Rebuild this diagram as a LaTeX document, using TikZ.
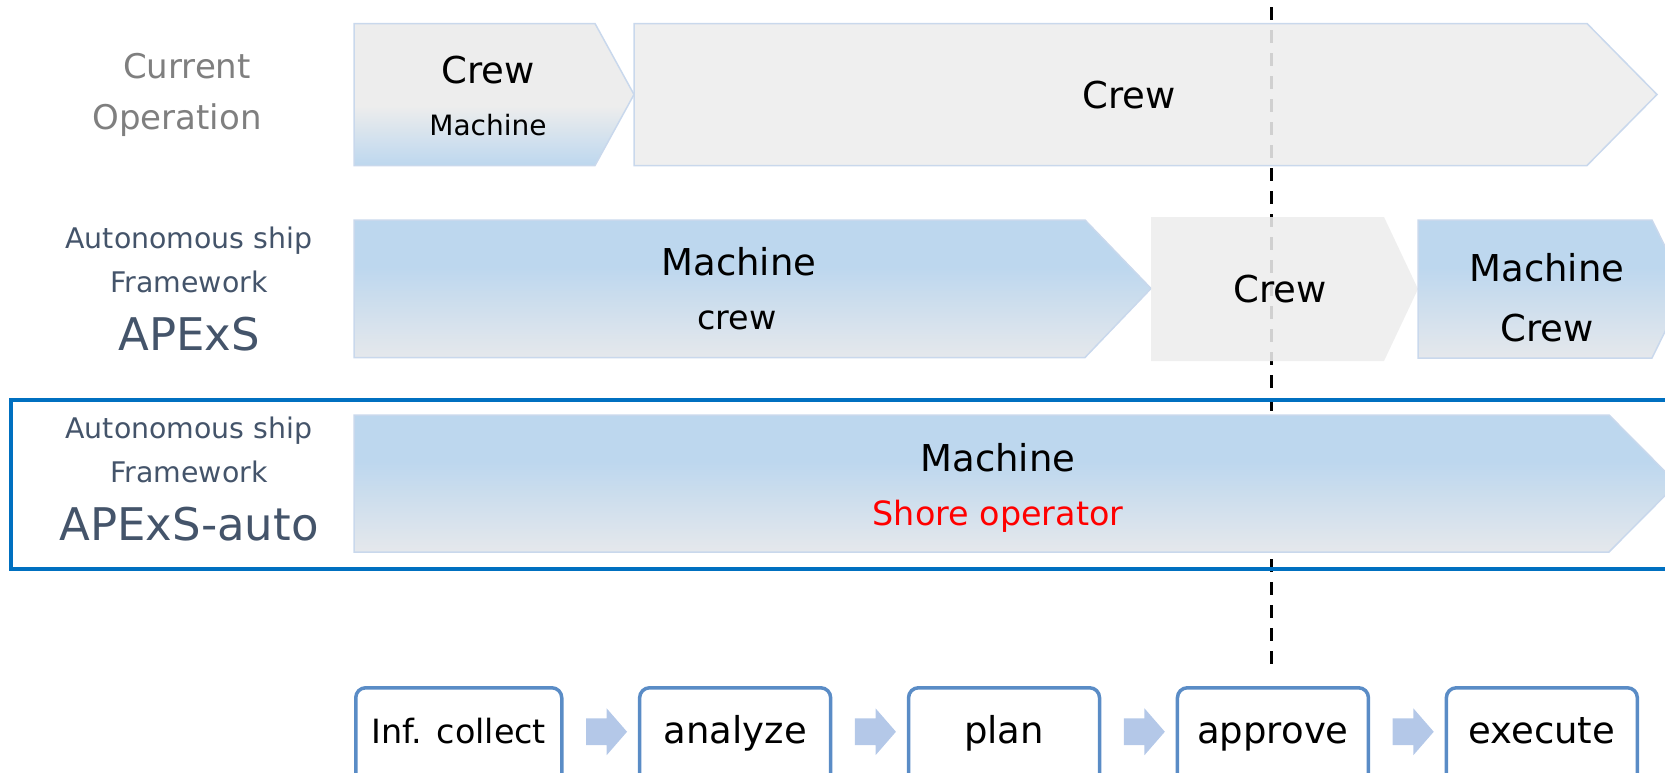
\documentclass[tikz,border=0pt]{standalone}
\usepackage{fontspec}
\setmainfont{DejaVu Sans}
\usetikzlibrary{positioning,shapes.arrows,calc}

\definecolor{boxblue}{HTML}{BDD7EE}
\definecolor{boxgray}{HTML}{EDEDED}
\definecolor{fadegray}{HTML}{E5E8EC}
\definecolor{edgeblue}{HTML}{C9D8EC}
\definecolor{frameblue}{HTML}{0070C0}
\definecolor{procblue}{HTML}{5A8CC6}
\definecolor{arrowblue}{HTML}{B4C8E8}
\definecolor{slate}{HTML}{44546A}
\definecolor{lblgray}{HTML}{7F7F7F}

% Verlaeufe fuer die Phasenpfeile
\pgfdeclareverticalshading{machinefade}{100bp}{color(0bp)=(fadegray); color(25bp)=(fadegray); color(58bp)=(boxblue); color(100bp)=(boxblue)}
\pgfdeclareverticalshading{crewfade}{100bp}{color(0bp)=(boxblue); color(25bp)=(boxblue); color(46bp)=(boxgray); color(100bp)=(boxgray)}

\begin{document}
\begin{tikzpicture}[x=0.5pt, y=-0.5pt,
        big/.style={inner sep=0pt, text height=13.5pt, text depth=0pt, font=\fontsize{18.5}{22}\selectfont},
        mid/.style={inner sep=0pt, text height=12.2pt, text depth=0pt, font=\fontsize{16.7}{20}\selectfont},
        tiny/.style={inner sep=0pt, text height=10.2pt, text depth=0pt, font=\fontsize{14}{17}\selectfont},
        curlbl/.style={inner sep=0pt, text height=12.4pt, text depth=0pt, text=lblgray, font=\fontsize{17}{20}\selectfont},
        rowlbl/.style={inner sep=0pt, text height=10.4pt, text depth=0pt, text=slate, font=\fontsize{14.2}{17}\selectfont},
        rowname/.style={inner sep=0pt, text height=16.4pt, text depth=0pt, text=slate, font=\fontsize{22.5}{27}\selectfont},
        bluestage/.style={draw=edgeblue, line width=0.75pt, shading=machinefade},
        graystage/.style={fill=boxgray, fill opacity=0.88, draw=edgeblue, line width=0.75pt},
        proc/.style={draw=procblue, line width=1.75pt, rounded corners=5pt, minimum width=95.5pt,
            inner sep=0pt, text height=28pt, text depth=20pt, anchor=north,
            font=\fontsize{18.5}{22}\selectfont},
        flow/.style={single arrow, fill=arrowblue, draw=none, minimum height=20.5pt,
            inner xsep=0pt, inner ysep=6.5pt, text height=0pt, text depth=0pt,
            single arrow head extend=5pt, single arrow tip angle=98, yshift=2pt},
        cutline/.style={line width=1.5pt, dash pattern=on 6.5pt off 5pt},
        frame/.style={draw=frameblue, line width=2pt}
        ]
    \useasboundingbox (0,0) rectangle (1665,772);
    \clip (0,0) rectangle (1665,772);

    % Trennlinie (liegt hinter den Pfeilen)
    \coordinate (cut top) at (1271,-16);
    \coordinate (cut end) at (1271,670);
    \draw[cutline] (cut top) -- (cut end);

    % Zeile 1: Current Operation
    \path[draw=edgeblue, line width=0.75pt, shading=crewfade]
        (354,23.5) -- (595,23.5) -- (634,94.5) -- (595,165.5) -- (354,165.5) -- cycle;
    \path[graystage]
        (634,23.5) -- (1587,23.5) -- (1657,94.5) -- (1587,165.5) -- (634,165.5) -- cycle;

    % Zeile 2: APExS
    \path[bluestage]
        (354,220) -- (1085,220) -- (1151,288.5) -- (1085,357.5) -- (354,357.5) -- cycle;
    \path[graystage, draw=none]
        (1151,217) -- (1384,217) -- (1418,289) -- (1384,361) -- (1151,361) -- cycle;
    \path[bluestage]
        (1418,220) -- (1652,220) -- (1686,289) -- (1652,358) -- (1418,358) -- cycle;

    % Zeile 3: APExS-auto
    \path[bluestage]
        (354,415) -- (1609,415) -- (1677,483.5) -- (1609,552) -- (354,552) -- cycle;
    \draw[frame] (10.5,400) rectangle (1690,569);

    % Beschriftung der Zeilen
    \node[curlbl] (cur1) at (187,66) {Current};
    \node[curlbl] (cur2) at (177,117) {Operation};
    \node[rowlbl] (apx1) at (189,238) {Autonomous ship};
    \node[rowlbl] (apx2) at (189,282.5) {Framework};
    \node[rowname] (apx3) at (189,334) {APExS};
    \node[rowlbl] (auto1) at (189,428) {Autonomous ship};
    \node[rowlbl] (auto2) at (189,472.5) {Framework};
    \node[rowname] (auto3) at (189,524) {APExS-auto};

    % Texte in den Pfeilen
    \node[big] (a1) at (488,70) {Crew};
    \node[tiny] (a2) at (488,125) {Machine};
    \node[big] (b1) at (1129,95) {Crew};
    \node[big] (c1) at (739,262) {Machine};
    \node[mid] (c2) at (737,317) {crew};
    \node[big] (d1) at (1280,288.5) {Crew};
    \node[big] (e1) at (1547,267.5) {Machine};
    \node[big] (e2) at (1547,327.5) {Crew};
    \node[big] (f1) at (998,458) {Machine};
    \node[mid, text=red] (f2) at (998,513) {Shore operator};

    % Prozessschritte
    \node[proc, minimum width=103pt, anchor=north west, font=\fontsize{16.7}{20}\selectfont]
        (inf) at (354,686) {Inf. collect};
    \node[proc, right=37.2pt of inf] (ana) {analyze};
    \node[proc, right=37.2pt of ana] (pla) {plan};
    \node[proc, right=37.2pt of pla] (app) {approve};
    \node[proc, right=37.2pt of app] (exe) {execute};

    \node[flow] (s1) at ($(inf.east)!0.5!(ana.west)$) {};
    \node[flow] (s2) at ($(ana.east)!0.5!(pla.west)$) {};
    \node[flow] (s3) at ($(pla.east)!0.5!(app.west)$) {};
    \node[flow] (s4) at ($(app.east)!0.5!(exe.west)$) {};
\end{tikzpicture}
\end{document}
